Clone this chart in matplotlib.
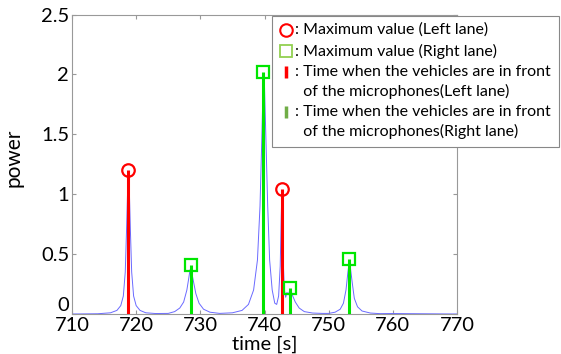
import matplotlib

matplotlib.use("Agg")
import matplotlib.pyplot as plt
from matplotlib.lines import Line2D
from matplotlib.patches import Rectangle
from matplotlib.transforms import ScaledTranslation

plt.rcParams["font.family"] = ["Lato", "DejaVu Sans"]

# power envelope
time_s = [
    710.0, 714.0, 716.0, 717.0, 717.6, 718.0, 718.3, 718.5, 718.7, 718.8,
    718.9, 719.1, 719.3, 719.6, 720.0, 720.6, 721.5, 723.0,
    725.0, 726.0, 726.8, 727.4, 727.9, 728.2, 728.4, 728.6, 728.9, 729.3,
    729.8, 730.5, 731.5, 733.0, 735.0,
    736.5, 737.5, 738.3, 738.9, 739.3, 739.6, 739.8, 740.0, 740.2, 740.5,
    740.8, 741.2, 741.6, 741.9, 742.2, 742.45, 742.6, 742.7, 742.8, 742.95,
    743.1, 743.3, 743.5, 743.7, 743.9, 744.1, 744.4, 744.8, 745.4, 746.2,
    747.5, 749.0,
    750.0, 751.0, 751.8, 752.3, 752.7, 753.0, 753.2, 753.4, 753.7, 754.0,
    754.5, 755.2, 756.5, 758.0, 760.0, 762.0, 770.0,
]
power = [
    0.0, 0.002, 0.01, 0.03, 0.07, 0.15, 0.35, 0.7, 1.1, 1.18,
    1.1, 0.7, 0.35, 0.15, 0.07, 0.03, 0.01, 0.004,
    0.005, 0.02, 0.05, 0.1, 0.2, 0.3, 0.37, 0.36, 0.28, 0.17,
    0.09, 0.04, 0.015, 0.005, 0.01,
    0.03, 0.08, 0.2, 0.45, 0.9, 1.5, 1.95, 1.9, 1.5, 0.9,
    0.45, 0.2, 0.09, 0.08, 0.15, 0.4, 0.8, 1.0, 0.8, 0.4,
    0.2, 0.14, 0.18, 0.16, 0.19, 0.2, 0.15, 0.1, 0.05, 0.02,
    0.008, 0.005,
    0.005, 0.015, 0.04, 0.09, 0.2, 0.35, 0.43, 0.38, 0.25, 0.13,
    0.06, 0.025, 0.008, 0.003, 0.004, 0.003, 0.0,
]

# maxima / passing times per lane
left_t = [718.8, 742.7]
left_max = [1.20, 1.04]
right_t = [728.5, 739.8, 744.0, 753.2]
right_max = [0.41, 2.02, 0.22, 0.457]

xticks = [710, 720, 730, 740, 750, 760, 770]
yticks = [0, 0.5, 1, 1.5, 2, 2.5]
ytick_labels = ["0", "0.5", "1", "1.5", "2", "2.5"]

legend_rows = [
    ": Maximum value (Left lane)",
    ": Maximum value (Right lane)",
    ": Time when the vehicles are in front",
    "  of the microphones(Left lane)",
    ": Time when the vehicles are in front",
    "  of the microphones(Right lane)",
]

W, H = 561, 354
fig = plt.figure(figsize=(W / 100, H / 100), dpi=100)
ax = fig.add_axes([72 / W, 1 - 314 / H, 385 / W, 299.5 / H])

ax.plot(time_s, power, color="#6a6aff", lw=0.7, zorder=2)
ax.vlines(left_t, 0, left_max, color="#ff0000", lw=2.2, zorder=3)
ax.vlines(right_t, 0, right_max, color="#00e600", lw=2.2, zorder=3)
ax.plot(left_t, left_max, "o", ms=9, mfc="none", mec="#ff0000", mew=1.6, zorder=4)
ax.plot(right_t, right_max, "s", ms=8, mfc="none", mec="#00e600", mew=1.6, zorder=4)

ax.set_xlim(710, 770)
ax.set_ylim(0, 2.5)
ax.set_xticks(xticks)
ax.set_yticks(yticks, ytick_labels)
ax.tick_params(direction="in", length=3, color="#999999", labelsize=14.5,
               top=True, right=True, pad=2)
for sp in ax.spines.values():
    sp.set_color("#999999")
    sp.set_linewidth(0.8)

# lift the "0" label clear of the "710" label
lbl0 = ax.get_yticklabels()[0]
lbl0.set_transform(lbl0.get_transform() + ScaledTranslation(0, 7 / 72, fig.dpi_scale_trans))

ax.set_xlabel("time [s]", fontsize=14.5, va="bottom")
ax.xaxis.set_label_coords(0.5, (314 - 353) / 299.5)
ax.set_ylabel("power", fontsize=15)
ax.yaxis.set_label_coords(-0.125, 0.52)

# hand-built legend in pixel coords
def px(x, y):
    return x / W, 1 - y / H

x0, y0 = px(272, 147)
x1, y1 = px(559, 16)
fig.patches.append(Rectangle((x0, y0), x1 - x0, y1 - y0, transform=fig.transFigure,
                             facecolor="white", edgecolor="#888888", lw=0.8, zorder=5))
row_y = [30, 51, 72, 91, 112, 131]
mk = [
    dict(marker="o", ms=9, mfc="none", mec="#ff0000", mew=1.5),
    dict(marker="s", ms=8, mfc="none", mec="#92d050", mew=1.3),
    dict(marker="|", ms=8, mec="#ff0000", mew=2.5),
    None,
    dict(marker="|", ms=8, mec="#70ad47", mew=2.5),
    None,
]
for yy, text, style in zip(row_y, legend_rows, mk):
    if style is not None:
        hx, hy = px(286, yy)
        fig.add_artist(Line2D([hx], [hy], transform=fig.transFigure, ls="none",
                              zorder=6, **style))
    tx, ty = px(295, yy)
    fig.text(tx, ty, text, fontsize=11.5, va="center", ha="left", zorder=6)

fig.savefig("out.png", dpi=100)
